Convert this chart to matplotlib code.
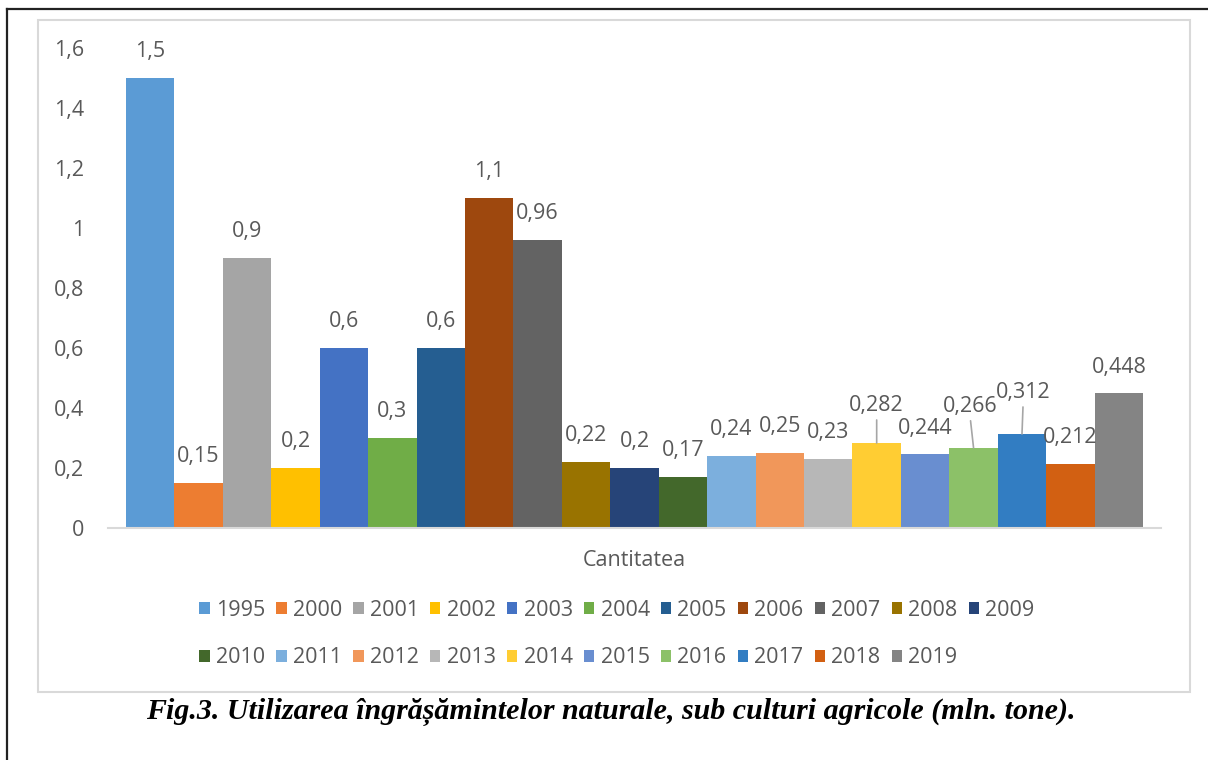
import matplotlib.pyplot as plt
import matplotlib.patches as mpatches
from matplotlib.lines import Line2D

# Data
years = ['1995', '2000', '2001', '2002', '2003', '2004', '2005', '2006', '2007', '2008', '2009',
         '2010', '2011', '2012', '2013', '2014', '2015', '2016', '2017', '2018', '2019']
values = [1.5, 0.15, 0.9, 0.2, 0.6, 0.3, 0.6, 1.1, 0.96, 0.22, 0.2,
          0.17, 0.24, 0.25, 0.23, 0.282, 0.244, 0.266, 0.312, 0.212, 0.448]
labels = ['1,5', '0,15', '0,9', '0,2', '0,6', '0,3', '0,6', '1,1', '0,96', '0,22', '0,2',
          '0,17', '0,24', '0,25', '0,23', '0,282', '0,244', '0,266', '0,312', '0,212', '0,448']
colors = ['#5B9BD5', '#ED7D31', '#A5A5A5', '#FFC000', '#4472C4', '#70AD47', '#255E91',
          '#9E480E', '#636363', '#997300', '#264478', '#43682B', '#7CAFDD', '#F1975A',
          '#B7B7B7', '#FFCD33', '#698ED0', '#8CC168', '#327DC2', '#D26012', '#848484']
yticks = [0, 0.2, 0.4, 0.6, 0.8, 1.0, 1.2, 1.4, 1.6]
ytick_labels = ['0', '0,2', '0,4', '0,6', '0,8', '1', '1,2', '1,4', '1,6']

# labels pushed up with a leader line (2014, 2016, 2017)
leader = {'2014': (0, 37), '2016': (-3, 41), '2017': (1, 41)}

plt.rcParams['font.family'] = ['Open Sans', 'DejaVu Sans']
txt_color = '#595959'
fs = 15.5

W, H = 1208, 760
fig = plt.figure(figsize=(W / 100, H / 100), dpi=100)

# frames
fig.add_artist(Line2D([7 / W, 7 / W], [0, 1 - 9 / H], color='#222222', lw=1.6))
fig.add_artist(Line2D([7 / W, 1], [1 - 9 / H, 1 - 9 / H], color='#222222', lw=1.6))
fig.add_artist(mpatches.Rectangle((38 / W, 1 - 692 / H), (1190 - 38) / W, (692 - 20) / H,
                                  fill=False, edgecolor='#d9d9d9', lw=1.5))

ax = fig.add_axes([108 / W, 1 - 527.5 / H, (1161 - 108) / W, (527.5 - 48) / H])
x = list(range(len(years)))
bars = ax.bar(x, values, width=1.0, color=colors, label=years)

ax.set_xlim(-0.5 - 0.37, len(years) - 0.5 + 0.37)
ax.set_ylim(0, 1.6)
ax.set_yticks(yticks)
ax.set_yticklabels(ytick_labels)
ax.set_xticks([])
ax.tick_params(axis='y', length=0, pad=17, labelsize=fs, labelcolor=txt_color)
for s in ['top', 'left', 'right']:
    ax.spines[s].set_visible(False)
ax.spines['bottom'].set_color('#d9d9d9')
ax.spines['bottom'].set_linewidth(1.5)
ax.set_xlabel('Cantitatea', fontsize=fs, color=txt_color, labelpad=16)

for i, (v, lab, yr) in enumerate(zip(values, labels, years)):
    if yr in leader:
        dx, dy = leader[yr]
        ax.annotate(lab, (i, v), xytext=(dx, dy), textcoords='offset pixels',
                    ha='center', va='center', fontsize=fs, color=txt_color)
        ax.annotate('', (i, v), xytext=(dx, dy - 14), textcoords='offset pixels',
                    arrowprops=dict(arrowstyle='-', color='#a6a6a6', lw=1.2,
                                    shrinkA=0, shrinkB=0))
    else:
        ax.annotate(lab, (i, v), xytext=(0, 26), textcoords='offset pixels',
                    ha='center', va='center', fontsize=fs, color=txt_color)

# legend: row 1 = first 11 years, row 2 = remaining 10
handles = list(bars)
order = []
for i in range(11):
    order.append(i)
    if i + 11 < len(years):
        order.append(i + 11)
leg = fig.legend([handles[i] for i in order], [years[i] for i in order],
                 ncol=11, loc='center', bbox_to_anchor=(617 / W, 1 - 634 / H),
                 frameon=False, fontsize=fs, handlelength=0.47, handleheight=0.47,
                 handletextpad=0.3, columnspacing=0.52, labelspacing=1.25)
for t in leg.get_texts():
    t.set_color(txt_color)

fig.text(611 / W, 1 - 712 / H,
         'Fig.3. Utilizarea îngrășămintelor naturale, sub culturi agricole (mln. tone).',
         ha='center', va='center', fontsize=21.6, fontweight='bold', fontstyle='italic',
         family=['Liberation Serif', 'DejaVu Serif'])

fig.savefig('out.png', dpi=100)
